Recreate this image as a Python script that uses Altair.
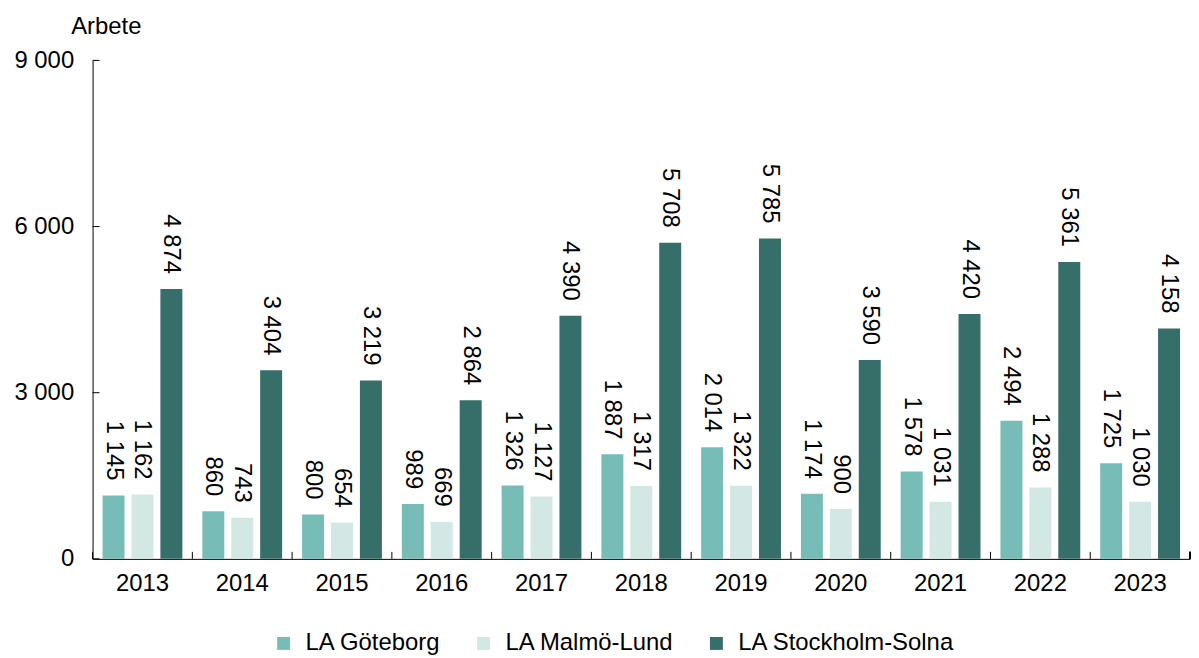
import altair as alt
import pandas as pd

years = [str(y) for y in range(2013, 2024)]
goteborg = [1145, 860, 800, 989, 1326, 1887, 2014, 1174, 1578, 2494, 1725]
malmo = [1162, 743, 654, 669, 1127, 1317, 1322, 900, 1031, 1288, 1030]
stockholm = [4874, 3404, 3219, 2864, 4390, 5708, 5785, 3590, 4420, 5361, 4158]
series = ["LA Göteborg", "LA Malmö-Lund", "LA Stockholm-Solna"]
colors = ["#78BCB7", "#D3E8E5", "#366E6A"]
y_ticks = [0, 3000, 6000, 9000]

rows = []
for i, yr in enumerate(years):
    for s, vals in zip(series, [goteborg, malmo, stockholm]):
        rows.append({"year": yr, "series": s, "value": vals[i],
                     "label": f"{vals[i]:,}".replace(",", " ")})
df = pd.DataFrame(rows)
df_years = pd.DataFrame({"year": years})
df_yt = pd.DataFrame({"t": y_ticks})

W, H = 1103, 501
FONT = "Liberation Sans"
FS = 24

x_axis = alt.Axis(title=None, labelAngle=0, labelFontSize=FS, labelPadding=13,
                  tickSize=0, domainColor="black", labelColor="black",
                  labelFont=FONT, grid=False)
x_scale = alt.Scale(paddingInner=0, paddingOuter=0)
y_axis = alt.Axis(values=y_ticks,
                  labelExpr="replace(format(datum.value, ','), ',', ' ')",
                  tickSize=0, labelPadding=19, labelFontSize=FS, labelFont=FONT,
                  labelColor="black", domainColor="black", grid=False,
                  title="Arbete", titleAngle=0, titleAlign="left",
                  titleBaseline="top", titleX=-22, titleY=-46,
                  titleFontSize=FS, titleFont=FONT, titleFontWeight="normal",
                  titleColor="black")
y_scale = alt.Scale(domain=[0, 9000], nice=False)
xoff = alt.XOffset("series:N", sort=series,
                   scale=alt.Scale(paddingInner=0.24, paddingOuter=0.345))

bars = alt.Chart(df).mark_bar().encode(
    x=alt.X("year:N", sort=years, scale=x_scale, axis=x_axis),
    xOffset=xoff,
    y=alt.Y("value:Q", scale=y_scale, axis=y_axis),
    color=alt.Color("series:N", sort=series,
                    scale=alt.Scale(domain=series, range=colors),
                    legend=alt.Legend(orient="none", legendX=180, legendY=574,
                                      direction="horizontal", title=None,
                                      symbolType="square", symbolSize=169,
                                      labelFontSize=FS, labelFont=FONT,
                                      labelColor="black", columnPadding=30,
                                      labelOffset=10, padding=0, labelLimit=0,
                                      symbolStrokeWidth=0, symbolOpacity=1)),
)

labels = alt.Chart(df).mark_text(angle=90, align="right", baseline="middle",
                                 dx=-15, fontSize=FS, font=FONT, color="black").encode(
    x=alt.X("year:N", sort=years, scale=x_scale, axis=x_axis),
    xOffset=xoff,
    y=alt.Y("value:Q", scale=y_scale, axis=y_axis),
    text="label:N",
)

xticks = alt.Chart(df_years).mark_rule(color="black", strokeWidth=1).encode(
    x=alt.X("year:N", sort=years, bandPosition=0, scale=x_scale, axis=x_axis),
    y=alt.value(H - 7),
    y2=alt.value(H),
)
xtick_end = alt.Chart(df_years).mark_rule(color="black", strokeWidth=1).encode(
    x=alt.value(W), y=alt.value(H - 7), y2=alt.value(H),
)
yticks = alt.Chart(df_yt).mark_rule(color="black", strokeWidth=1).encode(
    y=alt.Y("t:Q", scale=y_scale, axis=y_axis),
    x=alt.value(0),
    x2=alt.value(7),
)

chart = alt.layer(bars, labels, xticks, xtick_end, yticks).properties(
    width=W, height=H,
    padding={"left": 5, "top": 5, "right": 0, "bottom": 5},
    background="white",
).configure_view(stroke=None)

chart.save("out.html", embed_options={"renderer": "svg", "actions": False})
